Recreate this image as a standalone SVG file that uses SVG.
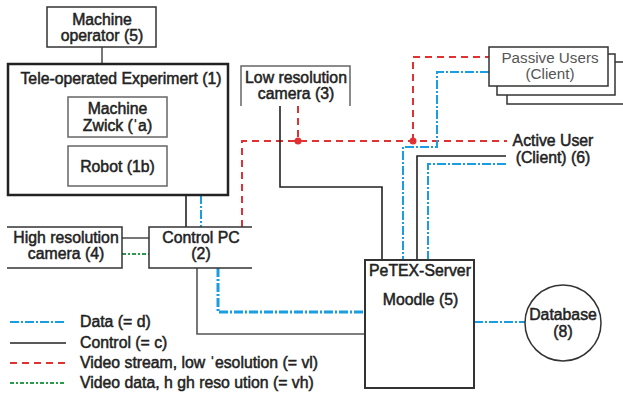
<svg xmlns="http://www.w3.org/2000/svg" width="623" height="394" viewBox="0 0 623 394">
<style>
text{font-family:"Liberation Sans",Arial,sans-serif;font-size:15.8px;fill:#222;stroke:#222;stroke-width:0.5;text-anchor:middle}
.l{text-anchor:start}
.g{fill:#555;stroke:none;font-size:15.2px}
.box{fill:#fff;stroke:#333;stroke-width:1.5}
.gbox{fill:none;stroke:#666;stroke-width:1.5}
.c{fill:none;stroke:#222;stroke-width:1.6}
.cg{fill:none;stroke:#555;stroke-width:1.6}
.d{fill:none;stroke:#1b9de2;stroke-width:2;stroke-dasharray:9 2 2 2}
.dt{fill:none;stroke:#1b9de2;stroke-width:3;stroke-dasharray:9 2 2 2}
.v{fill:none;stroke:#e03232;stroke-width:2;stroke-dasharray:7 5}
.h{fill:none;stroke:#2a9a4a;stroke-width:1.8;stroke-dasharray:4 2 2 2}
</style>
<g id="connectors">
<path class="cg" d="M102,47V64"/>
<path class="c" d="M186,195V227"/>
<path class="d" d="M201,195V227"/>
<path class="v" d="M242,227V141H507"/>
<path class="v" d="M298,106V141"/>
<path class="v" d="M413,141V57H489"/>
<circle cx="298" cy="141" r="3.5" fill="#e03232"/>
<circle cx="413" cy="141" r="3.5" fill="#e03232"/>
<path class="d" d="M489,72H437V147H403V260"/>
<path class="c" stroke-width="2.2" d="M506,156H417V260"/>
<path class="d" d="M506,164H428V260"/>
<path class="c" d="M280,106V187H382V260"/>
<path class="dt" d="M218,268V312H365"/>
<path class="cg" d="M197,268V334H365"/>
<path class="cg" d="M122,238H149"/>
<path class="h" d="M122,254H149"/>
<path class="d" d="M474,322H525"/>
</g>
<g id="operator">
<rect class="box" x="47" y="7" width="109" height="40"/>
<text x="102" y="24.5">Machine</text>
<text x="102" y="41">operator (5)</text>
</g>
<g id="experiment">
<rect x="8" y="64" width="220" height="131" fill="none" stroke="#222" stroke-width="2.5"/>
<text x="121" y="84">Tele-operated Experimert (1)</text>
</g>
<g id="zwick">
<rect class="gbox" x="68" y="97" width="99" height="40"/>
<text x="117.5" y="114">Machine</text>
<text x="117.5" y="131">Zwick (ˈa)</text>
</g>
<g id="robot">
<rect class="gbox" x="68" y="146" width="99" height="40"/>
<text x="117.5" y="172">Robot (1b)</text>
</g>
<g id="lowcam">
<path class="gbox" d="M241,106V66H350V106"/>
<text x="296" y="83">Low resolution</text>
<text x="296" y="99">camera (3)</text>
</g>
<g id="passive">
<rect class="box" x="507" y="62" width="122" height="42"/>
<rect class="box" x="497" y="54" width="118" height="41"/>
<rect class="box" x="489" y="47" width="119" height="39"/>
<text class="g" x="550" y="63">Passive Users</text>
<text class="g" x="550" y="79">(Client)</text>
</g>
<g id="active">
<text x="553" y="146">Active User</text>
<text x="553" y="163">(Client) (6)</text>
</g>
<g id="highcam">
<path class="box" d="M7,227H122V268H7"/>
<text x="66" y="243">High resolution</text>
<text x="66" y="259">camera (4)</text>
</g>
<g id="controlpc">
<path class="box" d="M252,227H149V268H252"/>
<text x="201" y="243">Control PC</text>
<text x="201" y="259">(2)</text>
</g>
<g id="server">
<rect x="365" y="260" width="109" height="128" fill="#fff" stroke="#333" stroke-width="2"/>
<text x="420" y="276">PeTEX-Server</text>
<text x="420.5" y="305">Moodle (5)</text>
</g>
<g id="database">
<circle cx="563" cy="323" r="38" fill="#fff" stroke="#333" stroke-width="1.5"/>
<text x="563" y="320">Database</text>
<text x="563" y="337">(8)</text>
</g>
<g id="legend">
<path class="d" d="M10,322H66"/>
<path class="c" d="M10,343H66"/>
<path class="v" d="M10,363H66"/>
<path class="h" d="M10,383H66"/>
<text class="l" x="80" y="327">Data (= d)</text>
<text class="l" x="80" y="348">Control (= c)</text>
<text class="l" x="80" y="368">Video stream, low ˈesolution (= vl)</text>
<text class="l" x="80" y="388">Video data, h gh reso ution (= vh)</text>
</g>
</svg>
